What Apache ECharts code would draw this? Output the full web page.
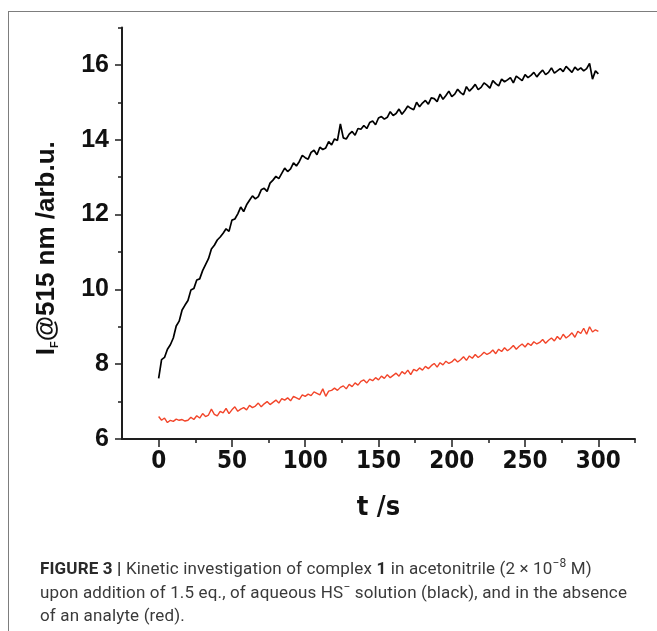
<!DOCTYPE html>
<html lang="en">
<head>
    <meta charset="UTF-8">
    <title>Figure 3 kinetics</title>
    <script src="https://cdn.jsdelivr.net/npm/echarts@6/dist/echarts.min.js"></script>
    <style>
        body { margin: 0; background: #ffffff; }
        #page { position: relative; width: 657px; height: 631px; overflow: hidden; }
        /* frame: only top and left edges are visible in the figure */
        #frame {
            position: absolute; left: 8px; top: 11px; width: 700px; height: 700px;
            border-top: 1px solid #7d7d7d; border-left: 1px solid #7d7d7d;
        }
        #main { position: absolute; left: 0; top: 0; width: 657px; height: 631px; }
        #caption {
            position: absolute; left: 40px; top: 557px; width: 616px; white-space: nowrap;
            font-family: Roboto, "Liberation Sans", sans-serif;
            font-size: 17px; letter-spacing: 0.15px; line-height: 23.5px; color: #3a3a3a;
        }
        #caption b { color: #2a2a2a; }
        #caption sup { font-size: 12px; line-height: 0; }
    </style>
</head>
<body>
<div id="page">
    <div id="frame"></div>
    <div id="main"></div>
    <div id="caption"><b>FIGURE 3 |</b> Kinetic investigation of complex <b>1</b> in acetonitrile (2 &times; 10<sup>&minus;8</sup> M)<br>upon addition of 1.5 eq., of aqueous HS<sup>&minus;</sup> solution (black), and in the absence<br>of an analyte (red).</div>
</div>

<script>
    // sampling: one reading every 2 s, from 0 to 300 s
    var stepSeconds = 2;

    // black: with 1.5 eq. HS-
    var blackValues = [
        7.62, 8.12, 8.18, 8.40, 8.52, 8.70, 9.02, 9.15, 9.45, 9.58, 9.70,
        9.98, 10.02, 10.25, 10.28, 10.50, 10.66, 10.82, 11.08, 11.18, 11.32,
        11.40, 11.50, 11.62, 11.55, 11.85, 11.88, 12.02, 12.20, 12.08, 12.26,
        12.38, 12.50, 12.42, 12.48, 12.66, 12.70, 12.62, 12.84, 12.92, 13.02,
        12.96, 13.10, 13.24, 13.15, 13.22, 13.38, 13.30, 13.42, 13.58, 13.52,
        13.48, 13.66, 13.72, 13.60, 13.80, 13.74, 13.78, 13.95, 13.86, 14.02,
        13.98, 14.42, 14.05, 14.02, 14.15, 14.22, 14.12, 14.30, 14.28, 14.38,
        14.30, 14.46, 14.50, 14.40, 14.58, 14.62, 14.55, 14.60, 14.75, 14.65,
        14.70, 14.82, 14.68, 14.78, 14.90, 14.84, 14.80, 15.00, 14.88, 14.98,
        15.05, 14.95, 15.12, 15.10, 15.02, 15.22, 15.08, 15.18, 15.30, 15.15,
        15.22, 15.35, 15.26, 15.20, 15.42, 15.30, 15.38, 15.48, 15.34, 15.40,
        15.52, 15.46, 15.38, 15.58, 15.50, 15.44, 15.62, 15.55, 15.60, 15.66,
        15.52, 15.70, 15.64, 15.58, 15.74, 15.66, 15.72, 15.80, 15.68, 15.78,
        15.86, 15.74, 15.80, 15.92, 15.78, 15.84, 15.90, 15.82, 15.96, 15.88,
        15.80, 15.94, 15.86, 15.92, 15.84, 15.90, 16.04, 15.62, 15.84, 15.76
    ];

    // red: no analyte
    var redValues = [
        6.60, 6.50, 6.56, 6.44, 6.50, 6.47, 6.53, 6.50, 6.52, 6.48, 6.50,
        6.58, 6.52, 6.62, 6.56, 6.68, 6.60, 6.64, 6.80, 6.66, 6.62,
        6.74, 6.70, 6.82, 6.68, 6.78, 6.86, 6.74, 6.80, 6.84, 6.78,
        6.90, 6.84, 6.88, 6.96, 6.86, 6.94, 7.00, 6.92, 6.98, 7.04,
        6.96, 7.08, 7.04, 7.10, 7.02, 7.14, 7.10, 7.06, 7.18, 7.14,
        7.20, 7.16, 7.26, 7.22, 7.18, 7.34, 7.14, 7.28, 7.30, 7.36,
        7.30, 7.38, 7.42, 7.34, 7.46, 7.40, 7.50, 7.44, 7.54, 7.58,
        7.50, 7.60, 7.56, 7.64, 7.58, 7.68, 7.62, 7.72, 7.64, 7.70,
        7.76, 7.68, 7.80, 7.74, 7.84, 7.72, 7.86, 7.82, 7.90, 7.84,
        7.94, 7.88, 7.96, 8.02, 7.92, 8.04, 7.98, 8.08, 8.02, 8.06,
        8.14, 8.06, 8.12, 8.20, 8.10, 8.22, 8.16, 8.26, 8.18, 8.24,
        8.32, 8.26, 8.30, 8.38, 8.28, 8.40, 8.34, 8.44, 8.36, 8.42,
        8.50, 8.40, 8.48, 8.54, 8.46, 8.56, 8.50, 8.60, 8.54, 8.58,
        8.66, 8.56, 8.64, 8.70, 8.62, 8.74, 8.66, 8.80, 8.70, 8.76,
        8.84, 8.72, 8.88, 8.82, 8.96, 8.80, 9.00, 8.86, 8.92, 8.88
    ];

    // tick positions
    var xMajorTicks = [0, 50, 100, 150, 200, 250, 300];
    var xMinorTicks = [25, 75, 125, 175, 225, 275, 325];
    var yMajorTicks = [6, 8, 10, 12, 14, 16];
    var yMinorTicks = [7, 9, 11, 13, 15, 17];

    function pairs(values) {
        return values.map(function (v, i) { return [i * stepSeconds, v]; });
    }

    var axisColor = '#1e1e1e';
    var narrowFont = '"Liberation Sans Narrow", "Arial Narrow", "DejaVu Sans Condensed", "Roboto Condensed", Roboto, sans-serif';
    var boldFont = '"Liberation Sans", Arial, sans-serif';
    var xRange = { min: -25, max: 325 };
    var yRange = { min: 6, max: 17 };

    var chart = echarts.init(document.getElementById('main'));

    var option = {
        animation: false,
        grid: { left: 122, right: 22, top: 27.5, bottom: 192 },
        xAxis: [{
            type: 'value', min: xRange.min, max: xRange.max,
            splitLine: { show: false },
            axisLine: { onZero: false, lineStyle: { color: axisColor, width: 2 } },
            axisTick: { customValues: xMajorTicks, length: 8, lineStyle: { color: axisColor, width: 1.5 } },
            axisLabel: {
                customValues: xMajorTicks, margin: 11,
                color: '#111', fontWeight: 'bold', fontSize: 24, fontFamily: narrowFont
            },
            name: 't /s', nameLocation: 'middle', nameGap: 55,
            nameTextStyle: { color: '#111', fontWeight: 'bold', fontSize: 27, fontFamily: narrowFont }
        }, {
            type: 'value', min: xRange.min, max: xRange.max, position: 'bottom',
            splitLine: { show: false },
            axisLine: { show: false, onZero: false },
            axisTick: { customValues: xMinorTicks, length: 4, lineStyle: { color: axisColor, width: 1.5 } },
            axisLabel: { show: false }
        }],
        yAxis: [{
            type: 'value', min: yRange.min, max: yRange.max,
            splitLine: { show: false },
            axisLine: { show: true, onZero: false, lineStyle: { color: axisColor, width: 2 } },
            axisTick: { show: true, customValues: yMajorTicks, length: 7, lineStyle: { color: axisColor, width: 1.5 } },
            axisLabel: {
                customValues: yMajorTicks, margin: 13,
                color: '#111', fontWeight: 'bold', fontSize: 25, fontFamily: boldFont
            },
            name: '{a|I}{s|F}{a|@515 nm /arb.u.}',
            nameLocation: 'middle', nameRotate: 90, nameGap: 60,
            nameTextStyle: {
                padding: [0, 30, 0, 0],
                rich: {
                    a: { color: '#111', fontWeight: 'bold', fontSize: 26, lineHeight: 30, fontFamily: boldFont },
                    s: { color: '#111', fontWeight: 'bold', fontSize: 11, lineHeight: 30,
                         verticalAlign: 'bottom', padding: [0, 0, 2, 0], fontFamily: boldFont }
                }
            }
        }, {
            type: 'value', min: yRange.min, max: yRange.max, position: 'left',
            splitLine: { show: false },
            axisLine: { show: false, onZero: false },
            axisTick: { show: true, customValues: yMinorTicks, length: 4, lineStyle: { color: axisColor, width: 1.5 } },
            axisLabel: { show: false }
        }],
        series: [{
            name: 'no analyte',
            type: 'line',
            data: pairs(redValues),
            showSymbol: false,
            lineStyle: { color: '#f2452a', width: 1.4 },
            z: 2
        }, {
            name: 'HS-',
            type: 'line',
            data: pairs(blackValues),
            showSymbol: false,
            lineStyle: { color: '#000000', width: 1.7 },
            z: 3
        }]
    };

    chart.setOption(option);
</script>
</body>
</html>
